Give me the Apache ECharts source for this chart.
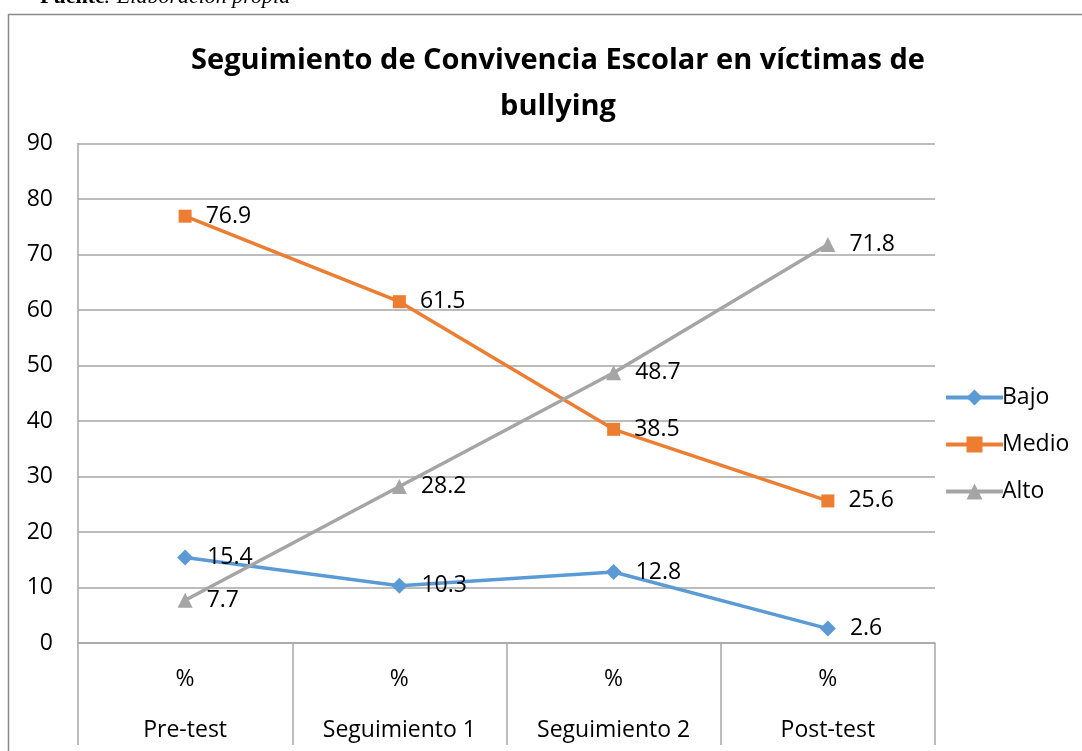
<!DOCTYPE html>
<html><head><meta charset="utf-8">
<script src="https://cdn.jsdelivr.net/npm/echarts@6/dist/echarts.min.js"></script>
<style>html,body{margin:0;padding:0;background:#fff}#c{width:1082px;height:751px}</style>
</head><body><div id="c"></div>
<script>
const categories = ['Pre-test', 'Seguimiento 1', 'Seguimiento 2', 'Post-test'];
const subLabel = '%';
const bajo = [15.4, 10.3, 12.8, 2.6];
const medio = [76.9, 61.5, 38.5, 25.6];
const alto = [7.7, 28.2, 48.7, 71.8];
const yTicks = { min: 0, max: 90, interval: 10 };

const FONT = '"Open Sans", "Liberation Sans", sans-serif';
const chart = echarts.init(document.getElementById('c'), null, { renderer: 'canvas' });

function lineSeries(name, data, color, symbol, size) {
  return {
    name, type: 'line', data, symbol, symbolSize: size,
    lineStyle: { color, width: 3.5 },
    itemStyle: { color },
    label: { show: true, position: 'right', distance: 14, color: '#000', fontSize: 23, fontFamily: FONT },
    z: 3
  };
}

chart.setOption({
  animation: false,
  backgroundColor: '#fff',
  graphic: [
    { type: 'text', left: 40, top: -14, style: { text: 'Fuente', font: 'bold 22px "Liberation Serif", serif', fill: '#000' } },
    { type: 'text', left: 104, top: -14, style: { text: ': Elaboración propia', font: 'italic 22px "Liberation Serif", serif', fill: '#000' } },
    { type: 'rect', shape: { x: 8.5, y: 14.5, width: 1100, height: 760 }, style: { fill: 'none', stroke: '#8a8a8a', lineWidth: 1.5 }, z: -1 }
  ],
  title: {
    text: 'Seguimiento de Convivencia Escolar en víctimas de\nbullying',
    left: 553, top: 33, textAlign: 'center',
    textStyle: { fontFamily: FONT, fontWeight: 'bold', fontSize: 29, lineHeight: 46, color: '#000' }
  },
  legend: {
    orient: 'vertical', left: 939, top: 381, itemGap: 24, itemWidth: 57, itemHeight: 20,
    lineStyle: { width: 4 },
    textStyle: { fontFamily: FONT, fontSize: 23, color: '#000', padding: [0, 0, 0, -6] },
    data: ['Bajo', 'Medio', 'Alto']
  },
  grid: { left: 78, right: 147, top: 143.5, bottom: 108, containLabel: false },
  xAxis: {
    type: 'category', data: categories, boundaryGap: true,
    axisLine: { show: true, lineStyle: { color: '#a6a6a6', width: 1.5 } },
    axisTick: { show: true, length: 102, interval: 0, lineStyle: { color: '#a6a6a6', width: 1.5 } },
    axisLabel: {
      interval: 0, margin: 11, color: '#000', fontSize: 23, fontFamily: FONT,
      formatter: v => '{p|' + subLabel + '}\n{c|' + v + '}',
      rich: {
        p: { fontFamily: FONT, fontSize: 23, color: '#000', lineHeight: 51 },
        c: { fontFamily: FONT, fontSize: 23, color: '#000', lineHeight: 51 }
      }
    }
  },
  yAxis: {
    type: 'value', min: yTicks.min, max: yTicks.max, interval: yTicks.interval,
    axisLine: { show: true, lineStyle: { color: '#a6a6a6', width: 1.5 } },
    axisTick: { show: false },
    splitLine: { lineStyle: { color: '#a6a6a6', width: 1.5 } },
    axisLabel: { fontFamily: FONT, fontSize: 23, color: '#000', margin: 25 }
  },
  series: [
    lineSeries('Bajo', bajo, '#5B9BD5', 'diamond', 16),
    lineSeries('Medio', medio, '#ED7D31', 'rect', 13),
    lineSeries('Alto', alto, '#A5A5A5', 'triangle', 15)
  ]
});
</script></body></html>
